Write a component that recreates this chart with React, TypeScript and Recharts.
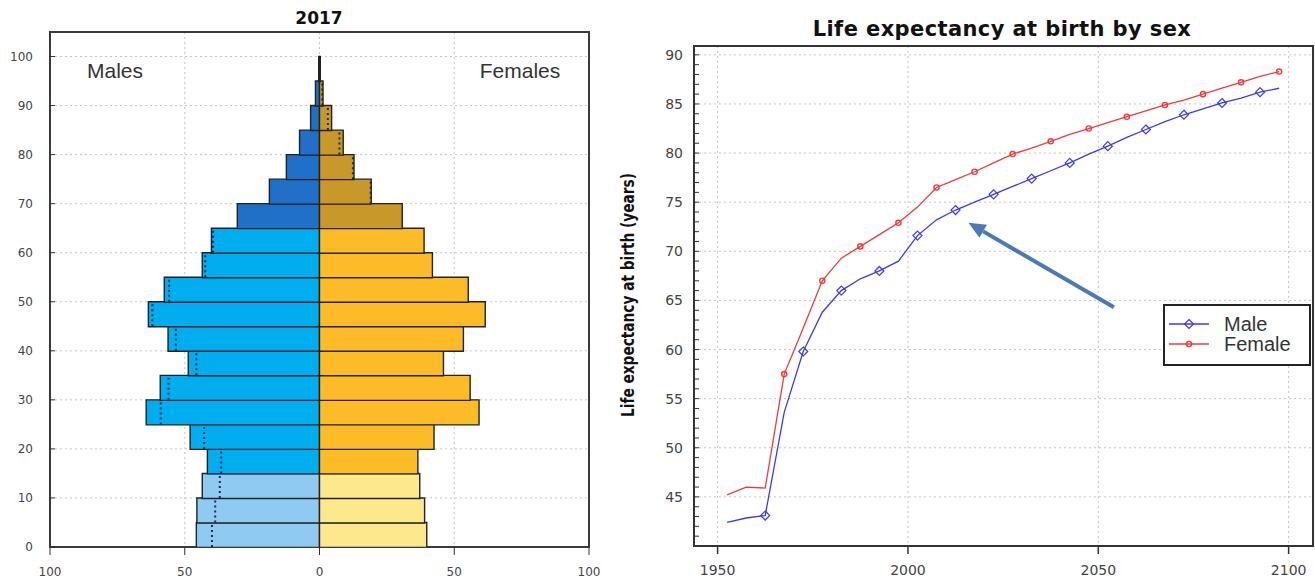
import React from "react";
import {
  BarChart,
  Bar,
  Cell,
  LineChart,
  Line,
  XAxis,
  YAxis,
  CartesianGrid,
  ReferenceLine,
  ReferenceArea,
  Legend,
} from "recharts";

// ---- population pyramid (2017), per 5-year age group ----
const AGE_START = [0, 5, 10, 15, 20, 25, 30, 35, 40, 45, 50, 55, 60, 65, 70, 75, 80, 85, 90, 95];
const MALES = [45.7, 45.5, 43.5, 41.6, 48.0, 64.3, 59.1, 48.7, 56.2, 63.5, 57.6, 43.5, 40.1, 30.5, 18.6, 12.3, 7.4, 3.3, 1.5, 0.3];
const FEMALES = [39.8, 39.0, 37.2, 36.5, 42.5, 59.2, 55.9, 46.0, 53.4, 61.5, 55.2, 41.9, 38.8, 30.7, 19.2, 12.8, 8.8, 4.5, 1.3, 0.3];
// dotted comparison outline
const MALES_REF = [39.9, 38.7, 37.0, 36.5, 42.8, 58.9, 56.0, 45.7, 53.3, 62.0, 55.8, 42.4, 39.5, null, null, null, null, null, null, null];
const FEMALES_REF = [null, null, null, null, null, null, null, null, null, null, null, null, null, null, 19.0, 12.4, 7.4, 3.1, 1.0, null];
const PYRAMID_X_TICKS = [-100, -50, 0, 50, 100];
const PYRAMID_Y_TICKS = [0, 10, 20, 30, 40, 50, 60, 70, 80, 90, 100];

// ---- life expectancy at birth ----
const YEARS = [1952.5, 1957.5, 1962.5, 1967.5, 1972.5, 1977.5, 1982.5, 1987.5, 1992.5, 1997.5, 2002.5, 2007.5, 2012.5, 2017.5, 2022.5, 2027.5, 2032.5, 2037.5, 2042.5, 2047.5, 2052.5, 2057.5, 2062.5, 2067.5, 2072.5, 2077.5, 2082.5, 2087.5, 2092.5, 2097.5];
const MALE_E0 = [42.4, 42.85, 43.1, 53.6, 59.8, 63.8, 66.0, 67.2, 68.0, 69.0, 71.6, 73.2, 74.2, 75.0, 75.8, 76.6, 77.4, 78.2, 79.0, 79.9, 80.7, 81.6, 82.4, 83.2, 83.9, 84.5, 85.1, 85.6, 86.2, 86.6];
const FEMALE_E0 = [45.2, 46.0, 45.9, 57.5, 62.2, 67.0, 69.3, 70.5, 71.7, 72.9, 74.5, 76.5, 77.3, 78.1, 79.0, 79.9, 80.5, 81.2, 81.9, 82.5, 83.1, 83.7, 84.3, 84.9, 85.4, 86.0, 86.6, 87.2, 87.8, 88.3];
const E0_X_TICKS = [1950, 2000, 2050, 2100];
const E0_Y_MAJOR = [45, 50, 55, 60, 65, 70, 75, 80, 85, 90];
const E0_Y_TICKS = [41, 42, 43, 44, 45, 46, 47, 48, 49, 50, 51, 52, 53, 54, 55, 56, 57, 58, 59, 60, 61, 62, 63, 64, 65, 66, 67, 68, 69, 70, 71, 72, 73, 74, 75, 76, 77, 78, 79, 80, 81, 82, 83, 84, 85, 86, 87, 88, 89, 90];
const LEGEND_ORDER = ["Male", "Female"];
const ARROW_FROM = { year: 2054.1, value: 64.3 };
const ARROW_TO = { year: 2015.9, value: 72.9 };

const MALE_COLORS = ["#8ecaf2", "#00aeef", "#1f70c6"];
const FEMALE_COLORS = ["#fde98c", "#fdbb28", "#c9982a"];
const MALE_LINE = "#3a3af2";
const FEMALE_LINE = "#f03a3a";
const GRID = "#c4c4c4";
const SANS = "'DejaVu Sans', Verdana, sans-serif";
const ARIAL = "'Liberation Sans', Arial, sans-serif";

const pyramidRows = AGE_START.map((a, i) => ({
  age: a + 2.5,
  male: -MALES[i],
  female: FEMALES[i],
}));

const e0Rows = YEARS.map((y, i) => ({ year: y, male: MALE_E0[i], female: FEMALE_E0[i] }));

const ageBand = (i: number) => (i < 3 ? 0 : i < 13 ? 1 : 2);

function InwardYTick(props: any) {
  const { x, y, payload, gap, fontSize, showLabel } = props;
  const label = showLabel ? showLabel(payload.value) : true;
  return (
    <g>
      <line x1={x + gap} x2={x + gap + 5} y1={y} y2={y} stroke="#333" strokeWidth={1} />
      {label && (
        <text x={x} y={y} dy={fontSize * 0.36} textAnchor="end" fontSize={fontSize} fontFamily={SANS} fill="#444">
          {payload.value}
        </text>
      )}
    </g>
  );
}

function Diamond({ cx, cy, color }: { cx: number; cy: number; color: string }) {
  return (
    <path
      d={`M${cx},${cy - 4.5}L${cx + 4.5},${cy}L${cx},${cy + 4.5}L${cx - 4.5},${cy}Z`}
      fill="none"
      stroke={color}
      strokeWidth={1.2}
    />
  );
}

function MaleDot(props: any) {
  const { cx, cy, index } = props;
  if (index < 2 || index % 2 !== 0) return <g key={`m${index}`} />;
  return <Diamond key={`m${index}`} cx={cx} cy={cy} color={MALE_LINE} />;
}

function FemaleDot(props: any) {
  const { cx, cy, index } = props;
  if (index < 3 || index % 2 !== 1) return <g key={`f${index}`} />;
  return <circle key={`f${index}`} cx={cx} cy={cy} r={2.6} fill="none" stroke={FEMALE_LINE} strokeWidth={1.4} />;
}

function Arrow(props: any) {
  const { x1, y1, x2, y2 } = props;
  const ang = Math.atan2(y2 - y1, x2 - x1);
  const len = 17;
  const half = 7.5;
  const bx = x2 - len * Math.cos(ang);
  const by = y2 - len * Math.sin(ang);
  const px = -Math.sin(ang) * half;
  const py = Math.cos(ang) * half;
  return (
    <g>
      <line x1={x1} y1={y1} x2={bx} y2={by} stroke="#4a7ab8" strokeWidth={4} />
      <path d={`M${x2},${y2}L${bx + px},${by + py}L${bx - px},${by - py}Z`} fill="#4a7ab8" />
    </g>
  );
}

function E0Legend(props: any) {
  const items = [...(props.payload || [])].sort(
    (a: any, b: any) => LEGEND_ORDER.indexOf(a.value) - LEGEND_ORDER.indexOf(b.value)
  );
  return (
    <div
      style={{
        boxSizing: "border-box",
        width: 148,
        height: 62,
        border: "2px solid #222",
        background: "#fff",
        position: "relative",
      }}
    >
      {items.map((it: any, i: number) => {
        const cy = 20 + i * 20;
        const isMale = it.value === "Male";
        return (
          <div key={it.value}>
            <svg width={50} height={62} style={{ position: "absolute", left: 0, top: -2 }}>
              <line x1={4} x2={44} y1={cy} y2={cy} stroke={it.color} strokeWidth={1.3} />
              {isMale ? (
                <Diamond cx={24} cy={cy} color={it.color} />
              ) : (
                <circle cx={24} cy={cy} r={2.6} fill="none" stroke={it.color} strokeWidth={1.4} />
              )}
            </svg>
            <div
              style={{
                position: "absolute",
                left: 59,
                top: cy - 14,
                fontFamily: ARIAL,
                fontSize: 20,
                lineHeight: "24px",
                color: "#333",
              }}
            >
              {it.value}
            </div>
          </div>
        );
      })}
    </div>
  );
}

export default function App() {
  return (
    <div style={{ position: "absolute", left: 0, top: 0, width: 1315, height: 582, background: "#fff" }}>
      {/* population pyramid */}
      <div style={{ position: "absolute", left: 0, top: 0 }}>
        <BarChart
          width={600}
          height={582}
          data={pyramidRows}
          layout="vertical"
          stackOffset="sign"
          barCategoryGap={0}
          margin={{ top: 32, right: 11, bottom: 0, left: 0 }}
        >
          <CartesianGrid
            stroke={GRID}
            strokeDasharray="2 3"
            horizontalValues={[10, 20, 30, 40, 50, 60, 70, 80, 90, 100]}
            verticalValues={[-50, 0, 50]}
          />
          <XAxis
            type="number"
            domain={[-100, 100]}
            ticks={PYRAMID_X_TICKS}
            allowDataOverflow
            height={35}
            axisLine={false}
            tickSize={8}
            tickMargin={12}
            tickLine={{ stroke: "#333" }}
            tickFormatter={(v: number) => String(Math.abs(v))}
            tick={{ fontSize: 12, fill: "#444", fontFamily: SANS }}
          />
          <YAxis
            type="number"
            dataKey="age"
            domain={[0, 105]}
            ticks={PYRAMID_Y_TICKS}
            allowDataOverflow
            reversed
            width={50}
            axisLine={false}
            tickLine={false}
            tickSize={0}
            tickMargin={17}
            tick={<InwardYTick gap={17} fontSize={12} />}
          />
          <Bar dataKey="male" stackId="pop" stroke="#222" strokeWidth={1.4} isAnimationActive={false}>
            {pyramidRows.map((_, i) => (
              <Cell key={`m${i}`} fill={MALE_COLORS[ageBand(i)]} />
            ))}
          </Bar>
          <Bar dataKey="female" stackId="pop" stroke="#222" strokeWidth={1.4} isAnimationActive={false}>
            {pyramidRows.map((_, i) => (
              <Cell key={`f${i}`} fill={FEMALE_COLORS[ageBand(i)]} />
            ))}
          </Bar>
          {AGE_START.map((a, i) =>
            MALES_REF[i] == null ? null : (
              <ReferenceLine
                key={`mr${i}`}
                segment={[
                  { x: -(MALES_REF[i] as number), y: a },
                  { x: -(MALES_REF[i] as number), y: a + 5 },
                ]}
                stroke="#1b2d50"
                strokeWidth={2}
                strokeDasharray="2 3"
              />
            )
          )}
          {AGE_START.map((a, i) =>
            FEMALES_REF[i] == null ? null : (
              <ReferenceLine
                key={`fr${i}`}
                segment={[
                  { x: FEMALES_REF[i] as number, y: a },
                  { x: FEMALES_REF[i] as number, y: a + 5 },
                ]}
                stroke="#2a2a2a"
                strokeWidth={2}
                strokeDasharray="2 3"
              />
            )
          )}
          <ReferenceArea x1={-100} x2={100} y1={0} y2={105} fill="none" stroke="#3a3a3a" strokeWidth={2} ifOverflow="visible" />
        </BarChart>
        <div style={{ position: "absolute", left: 269, top: 8, width: 100, textAlign: "center", fontFamily: SANS, fontWeight: "bold", fontSize: 17, color: "#111" }}>
          2017
        </div>
        <div style={{ position: "absolute", left: 65, top: 59, width: 100, textAlign: "center", fontFamily: ARIAL, fontSize: 21, color: "#333" }}>
          Males
        </div>
        <div style={{ position: "absolute", left: 460, top: 59, width: 120, textAlign: "center", fontFamily: ARIAL, fontSize: 21, color: "#333" }}>
          Females
        </div>
      </div>

      {/* life expectancy */}
      <div style={{ position: "absolute", left: 600, top: 0 }}>
        <LineChart width={715} height={582} data={e0Rows} margin={{ top: 46, right: 2, bottom: 0, left: 0 }}>
          <CartesianGrid stroke={GRID} strokeDasharray="2 3" horizontalValues={E0_Y_MAJOR} verticalValues={E0_X_TICKS} />
          <XAxis
            type="number"
            dataKey="year"
            domain={[1943.8, 2106.4]}
            ticks={E0_X_TICKS}
            allowDataOverflow
            height={36}
            axisLine={false}
            tickSize={8}
            tickMargin={11}
            tickLine={{ stroke: "#333", strokeWidth: 1.5 }}
            tick={{ fontSize: 14, fill: "#444", fontFamily: SANS }}
          />
          <YAxis
            type="number"
            domain={[40, 90.9]}
            ticks={E0_Y_TICKS}
            allowDataOverflow
            interval={0}
            width={94}
            axisLine={false}
            tickLine={false}
            tickSize={0}
            tickMargin={11}
            tick={<InwardYTick gap={11} fontSize={14} showLabel={(v: number) => v % 5 === 0} />}
          />
          <Line
            dataKey="male"
            name="Male"
            stroke={MALE_LINE}
            strokeWidth={1.3}
            dot={<MaleDot />}
            activeDot={false}
            isAnimationActive={false}
          />
          <Line
            dataKey="female"
            name="Female"
            stroke={FEMALE_LINE}
            strokeWidth={1.3}
            dot={<FemaleDot />}
            activeDot={false}
            isAnimationActive={false}
          />
          <ReferenceLine
            segment={[
              { x: ARROW_FROM.year, y: ARROW_FROM.value },
              { x: ARROW_TO.year, y: ARROW_TO.value },
            ]}
            shape={<Arrow />}
          />
          <ReferenceArea x1={1943.8} x2={2106.4} y1={40} y2={90.9} fill="none" stroke="#333" strokeWidth={2} ifOverflow="visible" />
          <Legend
            layout="horizontal"
            verticalAlign="middle"
            align="center"
            content={<E0Legend />}
            wrapperStyle={{ position: "absolute", left: 563, top: 304, width: 148, height: 62 }}
          />
        </LineChart>
        <div style={{ position: "absolute", left: 0, top: 17, width: 804, textAlign: "center", fontFamily: SANS, fontWeight: "bold", fontSize: 21, letterSpacing: 0.4, color: "#111" }}>
          Life expectancy at birth by sex
        </div>
        <svg width={60} height={582} style={{ position: "absolute", left: 0, top: 0 }}>
          <text
            transform="translate(34,295) rotate(-90)"
            textAnchor="middle"
            fontFamily="'Liberation Sans Narrow', 'DejaVu Sans Condensed', Arial, sans-serif"
            fontWeight="bold"
            fontSize={18}
            textLength={244}
            lengthAdjust="spacingAndGlyphs"
            fill="#111"
          >
            Life expectancy at birth (years)
          </text>
        </svg>
      </div>
    </div>
  );
}
